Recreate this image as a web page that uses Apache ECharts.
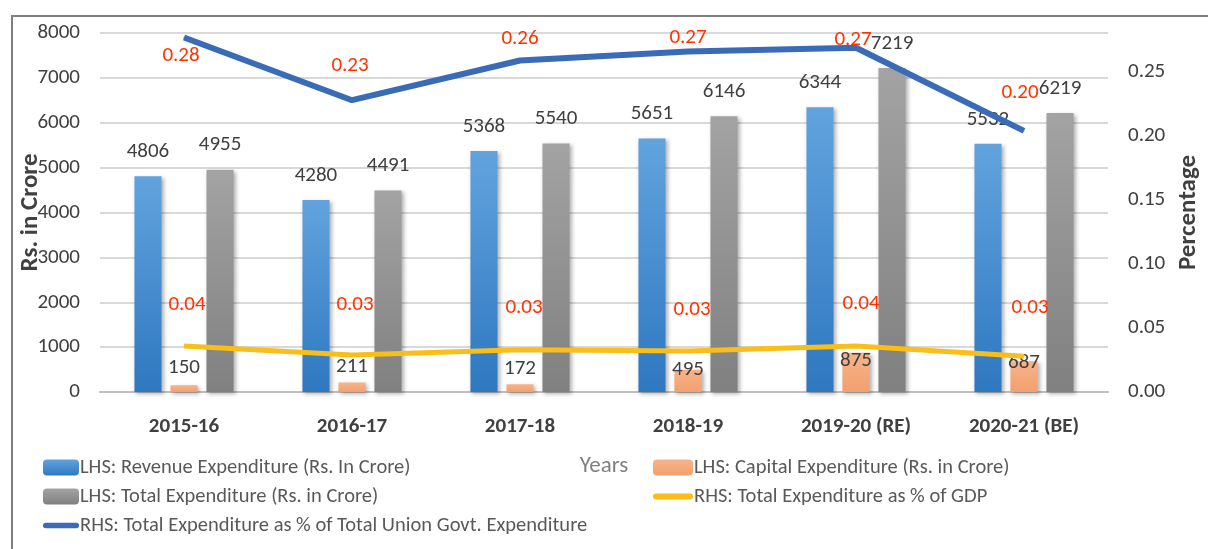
<!DOCTYPE html>
<html><head><meta charset="utf-8">
<script src="https://cdn.jsdelivr.net/npm/echarts@6/dist/echarts.min.js"></script>
<style>html,body{margin:0;padding:0;background:#fff}#c{width:1208px;height:549px}</style>
</head><body><div id="c"></div>
<script>
const categories = ['2015-16','2016-17','2017-18','2018-19','2019-20 (RE)','2020-21 (BE)'];
const revenueExp = [4806, 4280, 5368, 5651, 6344, 5532];
const capitalExp = [150, 211, 172, 495, 875, 687];
const totalExp = [4955, 4491, 5540, 6146, 7219, 6219];
const pctUnion = [0.277, 0.228, 0.259, 0.266, 0.269, 0.204];
const pctGDP = [0.036, 0.029, 0.033, 0.032, 0.036, 0.028];
const leftTicks = [0,1000,2000,3000,4000,5000,6000,7000,8000];

const FONT = "Carlito, 'Liberation Sans Narrow', 'DejaVu Sans Condensed', 'Open Sans', sans-serif";
const names = {
  rev: 'LHS: Revenue Expenditure (Rs. In Crore)',
  cap: 'LHS: Capital Expenditure (Rs. in Crore)',
  tot: 'LHS: Total Expenditure (Rs. in Crore)',
  gdp: 'RHS: Total Expenditure as % of GDP',
  uni: 'RHS: Total Expenditure as % of Total Union Govt. Expenditure'
};
const unionOffsets = [[-3,18],[-2,-34],[0,-22],[0,-14],[-3,-8],[-4,-38]];
const gdpOffsets = [[3,-41],[3,-50],[4,-42],[4,-41],[5,-42],[6,-48]];
const capOffsets = [[0,-7],[0,-5],[0,-5],[0,10],[0,19],[0,12]];
const lineIcon = 'path://M3,0 H37 A3,3 0 0 1 37,6 H3 A3,3 0 0 1 3,0 Z';

function grad(a,b){return new echarts.graphic.LinearGradient(0,0,0,1,[{offset:0,color:a},{offset:1,color:b}]);}
const barLabel = {show:true, position:'top', distance:14, color:'#404040', fontSize:21, fontFamily:FONT};
const shadow = {shadowBlur:4, shadowColor:'rgba(0,0,0,0.3)', shadowOffsetX:2, shadowOffsetY:2};
const redLabel = {show:true, color:'#ff3300', fontSize:21, fontFamily:FONT, formatter:p=>p.value.toFixed(2)};
const legendText = {fontSize:20.5, color:'#595959', fontFamily:FONT, padding:[0,0,0,-4]};

const chart = echarts.init(document.getElementById('c'), null, {renderer:'canvas'});
chart.setOption({
  animation:false,
  textStyle:{fontFamily:FONT},
  grid:{left:100, right:100, top:33, bottom:157, outerBoundsMode:'none', containLabel:false},
  graphic:[{type:'rect', shape:{x:12,y:16,width:1300,height:600}, style:{fill:'none', stroke:'#7f7f7f', lineWidth:2}, silent:true, z:-10}],
  legend:[
    {left:38, top:452, orient:'vertical', itemGap:8, itemWidth:36, itemHeight:16, textStyle:legendText,
     data:[{name:names.rev}, {name:names.tot}, {name:names.uni, icon:lineIcon}]},
    {left:648, top:452, orient:'vertical', itemGap:8, itemWidth:40, itemHeight:16, textStyle:legendText,
     data:[{name:names.cap}, {name:names.gdp, icon:lineIcon}]}
  ],
  xAxis:{type:'category', data:categories, name:'Years', nameLocation:'middle', nameGap:63,
    nameTextStyle:{fontSize:23, color:'#808080', fontFamily:FONT},
    axisLine:{lineStyle:{color:'#bfbfbf', width:2}}, axisTick:{show:false},
    axisLabel:{fontSize:21, fontWeight:'bold', color:'#404040', margin:24, fontFamily:FONT}},
  yAxis:[
    {type:'value', min:0, max:8000, interval:1000, name:'Rs. in Crore', nameLocation:'middle', nameGap:57,
     nameMoveOverlap:false,
     nameTextStyle:{fontSize:25, fontWeight:'bold', color:'#404040', fontFamily:FONT},
     axisLabel:{fontSize:21, color:'#404040', margin:20, fontFamily:FONT,
       formatter:v=>leftTicks.includes(v)?String(v):''},
     splitLine:{lineStyle:{color:'#d9d9d9', width:2}}, axisLine:{show:false}, axisTick:{show:false}},
    {type:'value', min:0, max:0.2805, interval:0.05, name:'Percentage', nameLocation:'middle', nameGap:68,
     nameMoveOverlap:false,
     nameTextStyle:{fontSize:25, fontWeight:'bold', color:'#404040', fontFamily:FONT},
     axisLabel:{fontSize:21, color:'#404040', margin:20, showMaxLabel:false, fontFamily:FONT, formatter:v=>v.toFixed(2)},
     splitLine:{show:false}, axisLine:{show:false}, axisTick:{show:false}}
  ],
  series:[
    {name:names.rev, type:'bar', data:revenueExp, barGap:'33%', barCategoryGap:'41%',
     itemStyle:Object.assign({color:grad('#62a3de','#2e78c0')}, shadow), label:barLabel, z:2},
    {name:names.cap, type:'bar',
     data:capitalExp.map((v,i)=>({value:v, label:{offset:capOffsets[i]}})),
     itemStyle:Object.assign({color:grad('#f8b38a','#f2a06e')}, shadow),
     label:Object.assign({}, barLabel, {distance:0}), z:2},
    {name:names.tot, type:'bar', data:totalExp,
     itemStyle:Object.assign({color:grad('#a3a3a3','#808080')}, shadow), label:barLabel, z:2},
    {name:names.gdp, type:'line', yAxisIndex:1, symbol:'circle', symbolSize:1, showSymbol:true, z:5,
     lineStyle:{color:'#f9be18', width:5}, itemStyle:{color:'#f9be18'},
     data:pctGDP.map((v,i)=>({value:v, label:{position:'inside', offset:gdpOffsets[i]}})),
     label:redLabel},
    {name:names.uni, type:'line', yAxisIndex:1, symbol:'circle', symbolSize:1, showSymbol:true, z:5,
     lineStyle:{color:'#3a6bb7', width:6}, itemStyle:{color:'#3a6bb7'},
     data:pctUnion.map((v,i)=>({value:v, label:{position:'inside', offset:unionOffsets[i]}})),
     label:redLabel}
  ]
});
</script></body></html>
